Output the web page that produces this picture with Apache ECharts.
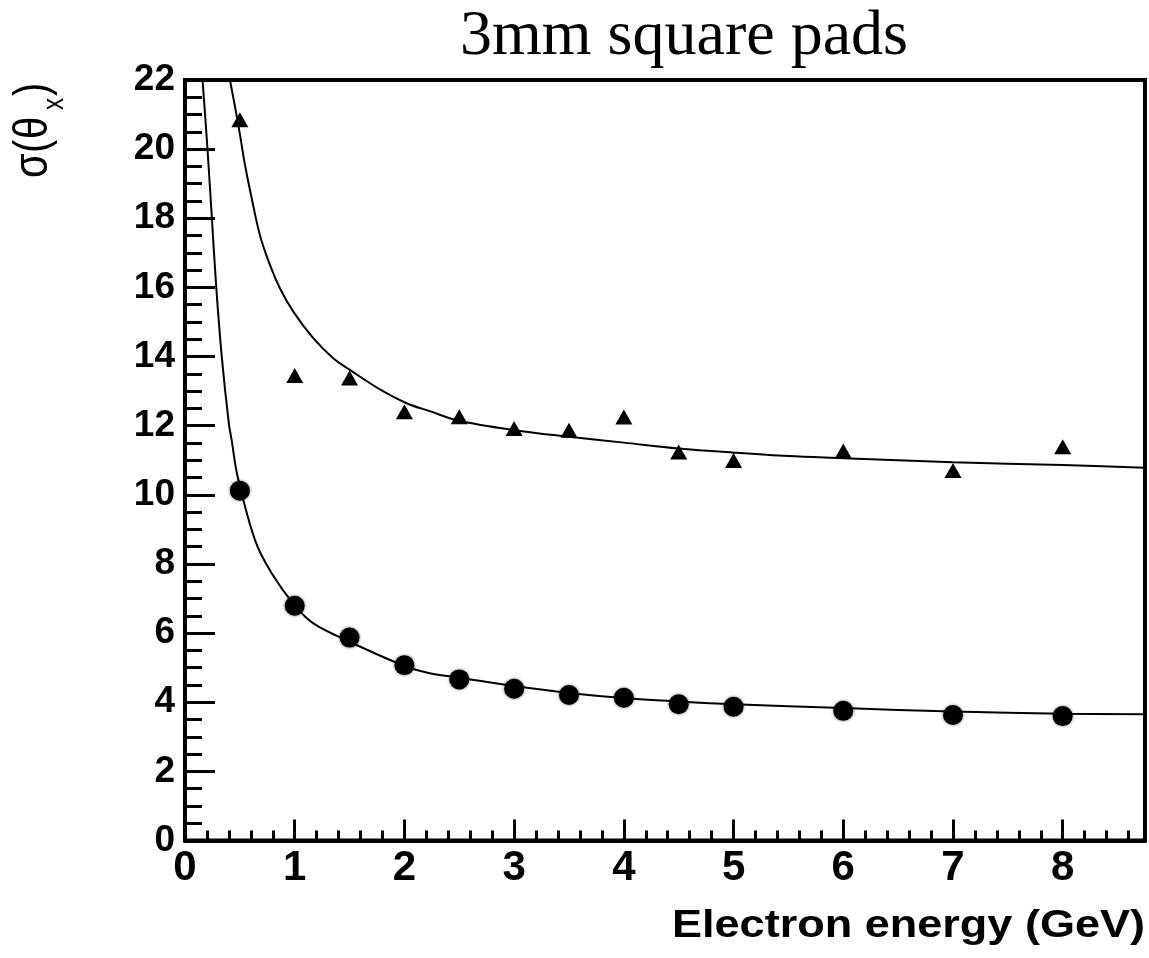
<!DOCTYPE html>
<html>
<head>
<meta charset="utf-8">
<script src="https://cdn.jsdelivr.net/npm/echarts@6/dist/echarts.min.js"></script>
<style>
  html, body { margin: 0; padding: 0; background: #fff; }
  #chart { width: 1149px; height: 958px; }
</style>
</head>
<body>
<div id="chart"></div>
<script>
// Beam energies (GeV) of the measured points
const energies = [0.5, 1, 1.5, 2, 2.5, 3, 3.5, 4, 4.5, 5, 6, 7, 8];
// sigma(theta_x) measured values, two data sets
const circleValues = [10.12, 6.79, 5.87, 5.07, 4.66, 4.39, 4.21, 4.13, 3.94, 3.87, 3.75, 3.63, 3.60];
const triangleValues = [20.85, 13.45, 13.38, 12.40, 12.26, 11.92, 11.87, 12.25, 11.24, 10.99, 11.27, 10.70, 11.39];

// Fitted curves, sampled along the energy axis
const lowerFitE = [0.16, 0.205, 0.245, 0.285, 0.335, 0.40, 0.425, 0.478, 0.638, 0.79, 1.0, 1.17, 1.5, 2.0, 2.23, 2.5, 3.0, 3.5, 4.0, 4.5, 5.0, 6.0, 7.0, 8.0, 8.75];
const lowerFitS = [22.0, 20.0, 18.0, 16.0, 14.0, 12.05, 11.59, 10.55, 8.69, 7.73, 6.8, 6.28, 5.75, 5.05, 4.84, 4.71, 4.47, 4.27, 4.12, 4.02, 3.94, 3.83, 3.73, 3.67, 3.65];
const upperFitE = [0.41, 0.486, 0.547, 0.608, 0.683, 0.774, 0.866, 0.987, 1.169, 1.351, 1.5, 1.777, 2.02, 2.23, 2.5, 3.0, 3.5, 4.0, 4.5, 5.0, 5.5, 6.0, 7.0, 8.0, 8.75];
const upperFitS = [22.0, 20.7, 19.54, 18.58, 17.51, 16.65, 15.97, 15.30, 14.53, 13.95, 13.62, 13.05, 12.65, 12.42, 12.14, 11.87, 11.68, 11.51, 11.34, 11.22, 11.12, 11.06, 10.94, 10.86, 10.78];

// Axis tick labels
const xTickLabels = ['0', '1', '2', '3', '4', '5', '6', '7', '8'];
const yTickLabels = ['0', '2', '4', '6', '8', '10', '12', '14', '16', '18', '20', '22'];

const titleText = '3mm square pads';
const xTitleText = 'Electron energy (GeV)';

const zip = (xs, ys) => xs.map((x, i) => [x, ys[i]]);

// text width helper for the x title
const measureCtx = document.createElement('canvas').getContext('2d');
function textWidth(str, font) {
  measureCtx.font = font;
  return measureCtx.measureText(str).width;
}

const SANS = 'Liberation Sans';
const xTitleFont = 38;
const xTitleScale = 473 / textWidth(xTitleText, `bold ${xTitleFont}px "${SANS}"`);

// y title pieces: sigma ( theta, subscript x, closing paren
const yTitleFont = 40, yTitleSubFont = 24;
function yTitlePiece(text, x, y, size) {
  return {
    type: 'text', x: x, y: y,
    style: { text: text, fontFamily: SANS, fontSize: size, fill: '#000', align: 'left', verticalAlign: 'middle' }
  };
}

const chart = echarts.init(document.getElementById('chart'), null, { renderer: 'canvas' });

chart.setOption({
  animation: false,
  backgroundColor: '#ffffff',
  grid: {
    left: 185, right: 4, top: 80, bottom: 117.5,
    containLabel: false,
    outerBoundsMode: 'none',
    show: true,
    borderColor: '#000',
    borderWidth: 4,
    backgroundColor: 'transparent'
  },
  xAxis: {
    type: 'value',
    min: 0, max: 8.75, interval: 1,
    axisLine: { show: true, onZero: false, lineStyle: { color: '#000', width: 4 } },
    axisTick: { show: true, inside: true, length: 21, lineStyle: { color: '#000', width: 3 } },
    minorTick: { show: true, splitNumber: 5, length: 10, lineStyle: { color: '#000', width: 3 } },
    splitLine: { show: false },
    axisLabel: {
      color: '#000', fontFamily: SANS, fontWeight: 'bold', fontSize: 42, margin: 7,
      formatter: v => (Number.isInteger(v) && xTickLabels.includes(String(v))) ? String(v) : ''
    }
  },
  yAxis: {
    type: 'value',
    min: 0, max: 22, interval: 2,
    axisLine: { show: true, onZero: false, lineStyle: { color: '#000', width: 4 } },
    axisTick: { show: true, inside: true, length: 30, lineStyle: { color: '#000', width: 3 } },
    minorTick: { show: true, splitNumber: 4, length: 17, lineStyle: { color: '#000', width: 3 } },
    splitLine: { show: false },
    axisLabel: {
      color: '#000', fontFamily: SANS, fontWeight: 'bold', fontSize: 37, margin: 10,
      formatter: v => yTickLabels.includes(String(v)) ? String(v) : ''
    }
  },
  series: [
    {
      type: 'line', data: zip(upperFitE, upperFitS),
      showSymbol: false, smooth: 0.35, clip: true,
      lineStyle: { color: '#000', width: 2 }, z: 2
    },
    {
      type: 'line', data: zip(lowerFitE, lowerFitS),
      showSymbol: false, smooth: 0.35, clip: true,
      lineStyle: { color: '#000', width: 2 }, z: 2
    },
    {
      type: 'scatter', data: zip(energies, triangleValues),
      symbol: 'triangle', symbolSize: [17, 15],
      itemStyle: { color: '#000', opacity: 1 }, z: 3
    },
    {
      type: 'scatter', data: zip(energies, circleValues),
      symbol: 'circle', symbolSize: 20,
      itemStyle: { color: '#000', opacity: 1, shadowBlur: 3, shadowColor: 'rgba(0,0,0,0.6)' }, z: 3
    }
  ],
  graphic: [
    {
      type: 'text', x: 684, y: 37,
      style: { text: titleText, fontFamily: 'Liberation Serif', fontSize: 64, fill: '#000', align: 'center', verticalAlign: 'middle' }
    },
    {
      type: 'text', x: 1145, y: 927, scaleX: xTitleScale,
      style: { text: xTitleText, fontFamily: SANS, fontWeight: 'bold', fontSize: xTitleFont, fill: '#000', align: 'right', verticalAlign: 'middle' }
    },
    {
      // rotated to read upwards; local y is stretched so the glyphs come out tall
      type: 'group', x: 0, y: 178, rotation: Math.PI / 2, scaleX: 1, scaleY: 1.2,
      children: [
        yTitlePiece('σ', 0, 27.8, yTitleFont),
        yTitlePiece('(', 25, 27.8, yTitleFont),
        yTitlePiece('θ', 39, 27.8, yTitleFont),
        yTitlePiece('x', 68, 45.9, yTitleSubFont),
        yTitlePiece(')', 82, 27.8, yTitleFont)
      ]
    }
  ]
});
</script>
</body>
</html>
